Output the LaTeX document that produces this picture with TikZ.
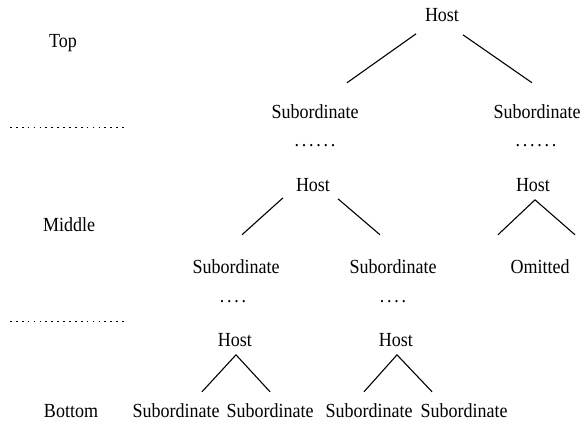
\documentclass[tikz,border=0pt]{standalone}
\usepackage{fontspec}
\setmainfont{Liberation Serif}[FakeStretch=0.9]
\usepackage{tikz}

\tikzset{
  word/.style={inner sep=0pt, font=\fontsize{20}{22}\selectfont},
  dots/.style={word, font=\fontsize{20}{22}\selectfont\addfontfeature{LetterSpace=14}},
  branch/.style={line width=1.1pt},
  levelrule/.style={line width=1.7pt, dash pattern=on 1.7pt off 4.2pt}
}

\begin{document}
\begin{tikzpicture}[x=1pt,y=-1pt]
			\useasboundingbox (0,0) rectangle (587,428);

			% 层次标签
			\node[word] (top) at (63,43) {Top};
			\node[word] (mid) at (69,225) {Middle};
			\node[word] (bot) at (71,411) {Bottom};
			\draw[levelrule] (10,127.5) -- (125,127.5);
			\draw[levelrule] (10,321.5) -- (125,321.5);

			% 第一层
			\node[word] (h1) at (442,15) {Host};
			\node[word] (s1) at (315,112) {Subordinate};
			\node[word] (s2) at (537,112) {Subordinate};
			\node[dots] (d1) at (315,146) {......};
			\node[dots] (d2) at (536,146) {......};

			% 第二层
			\node[word] (h2) at (313,185) {Host};
			\node[word] (h3) at (533,185) {Host};
			\node[word] (s3) at (236,267) {Subordinate};
			\node[word] (s4) at (393,267) {Subordinate};
			\node[word] (om) at (540,267) {Omitted};
			\node[dots] (d3) at (233,302) {....};
			\node[dots] (d4) at (393,302) {....};

			% 第三层
			\node[word] (h4) at (235,340) {Host};
			\node[word] (h5) at (396,340) {Host};
			\node[word] (s5) at (176,411) {Subordinate};
			\node[word] (s6) at (270,411) {Subordinate};
			\node[word] (s7) at (369,411) {Subordinate};
			\node[word] (s8) at (464,411) {Subordinate};

			% 连线
			\draw[branch] ([xshift=-26pt,yshift=-12pt]h1.south) -- ([xshift=32pt,yshift=22pt]s1.north);
			\draw[branch] ([xshift=21pt,yshift=-13pt]h1.south) -- ([xshift=-5pt,yshift=22pt]s2.north);
			\draw[branch] ([xshift=-30pt,yshift=-6pt]h2.south) -- ([xshift=6pt,yshift=25pt]s3.north);
			\draw[branch] ([xshift=25pt,yshift=-7pt]h2.south) -- ([xshift=-13pt,yshift=25pt]s4.north);
			\draw[branch] ([xshift=-42pt,yshift=25pt]om.north) -- ([xshift=2pt,yshift=-8pt]h3.south) -- ([xshift=35pt,yshift=25pt]om.north);
			\draw[branch] ([xshift=26pt,yshift=12pt]s5.north) -- ([xshift=1pt,yshift=-8pt]h4.south) -- ([yshift=12pt]s6.north);
			\draw[branch] ([xshift=-5pt,yshift=12pt]s7.north) -- ([xshift=1pt,yshift=-8pt]h5.south) -- ([xshift=-32pt,yshift=12pt]s8.north);
		\end{tikzpicture}
\end{document}
